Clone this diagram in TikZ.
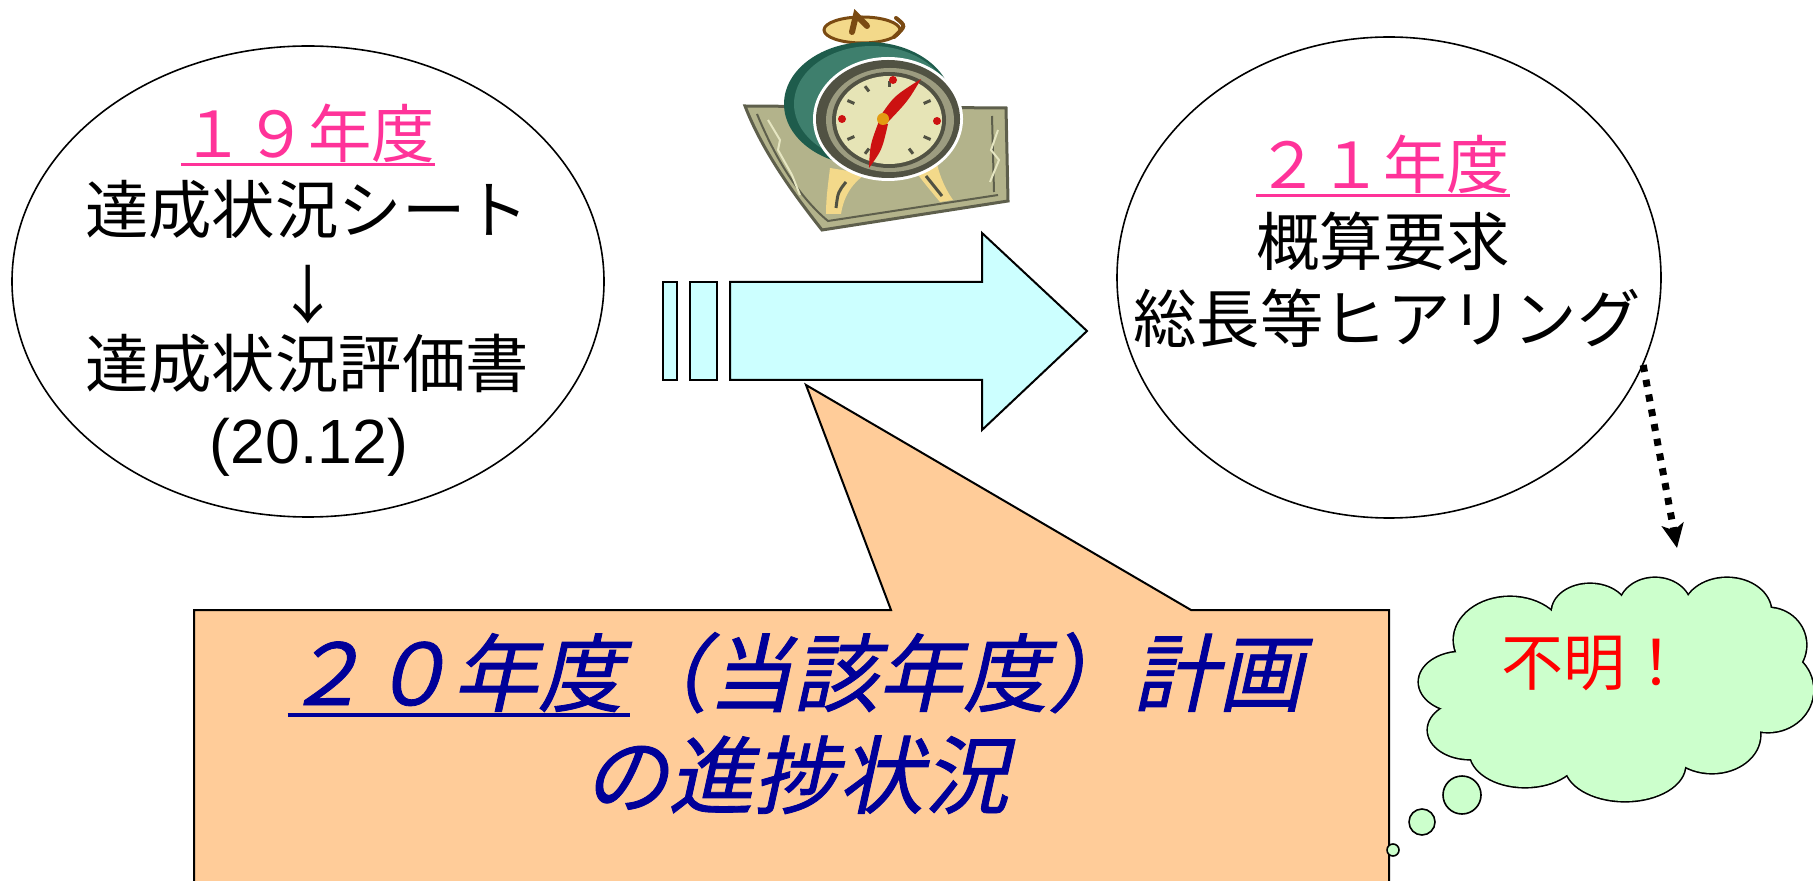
\documentclass[tikz,border=0pt]{standalone}
\usepackage{fontspec}
\setmainfont{Liberation Sans}
\newfontfamily\jp{Noto Sans CJK JP}
\newfontfamily\jpslant[FakeSlant=0.22,FakeBold=1]{Noto Sans CJK JP}
\usetikzlibrary{shapes.geometric,arrows.meta}

\definecolor{pinktxt}{HTML}{FF3399}
\definecolor{navytxt}{HTML}{000099}
\definecolor{redtxt}{HTML}{FF0000}
\definecolor{arrowfill}{HTML}{CCFFFF}
\definecolor{calloutfill}{HTML}{FFCC99}
\definecolor{cloudfill}{HTML}{CCFFCC}
\definecolor{plate}{HTML}{B3B38B}
\definecolor{platedark}{HTML}{5E5F4C}
\definecolor{platelight}{HTML}{E6E6C2}
\definecolor{clockgreen}{HTML}{3E7F6D}
\definecolor{clockgreendark}{HTML}{1E5C4C}
\definecolor{ringdark}{HTML}{515243}
\definecolor{ringmid}{HTML}{9C9C80}
\definecolor{face}{HTML}{E6E4B6}
\definecolor{handred}{HTML}{CC1111}
\definecolor{knob}{HTML}{E39B12}
\definecolor{bellbeige}{HTML}{F3D98A}
\definecolor{bellbrown}{HTML}{7A4A12}

\begin{document}
\begin{tikzpicture}[x=0.5pt,y=-0.5pt,
  bubble/.style={draw=black, ellipse, line width=0.8pt, inner sep=0pt},
  jptext/.style={font=\jp\fontsize{31.7pt}{36pt}\selectfont, inner sep=0pt, anchor=base},
  bigtext/.style={font=\jpslant\fontsize{42.5pt}{48pt}\selectfont, text=navytxt, inner sep=0pt, anchor=base},
  shapeline/.style={draw=black, line width=1pt, line join=miter}]
\useasboundingbox (0,0) rectangle (1813,881);
\clip (0,0) rectangle (1813,881);

% ---- the two year ellipses ----
\node[bubble, minimum width=296pt, minimum height=235.5pt] (left) at (308,281.5) {};
\node[bubble, minimum width=272pt, minimum height=240.5pt] (right) at (1389,277.5) {};

\node[jptext, text=pinktxt] (l1) at (308,158) {１９年度};
\draw[pinktxt, line width=1.5pt] ([yshift=-3.3pt]l1.base west) -- ([yshift=-3.3pt]l1.base east);
\node[jptext] (l2) at (307,234) {達成状況シート};
\node[jptext, anchor=center] (l3) at (308,295) {↓};
\node[jptext] (l4) at (307,388) {達成状況評価書};
\node[font=\fontsize{31.25pt}{36pt}\selectfont, inner sep=0pt, anchor=base] (l5) at (309,464) {(20.12)};

\node[jptext, text=pinktxt] (r1) at (1383,189) {２１年度};
\draw[pinktxt, line width=1.5pt] ([yshift=-3.3pt]r1.base west) -- ([yshift=-3.3pt]r1.base east);
\node[jptext] (r2) at (1383,266) {概算要求};
\node[jptext] (r3) at (1387,343) {総長等ヒアリング};

% ---- striped block arrow ----
\filldraw[fill=arrowfill, shapeline] (663,282) rectangle (677,380);
\filldraw[fill=arrowfill, shapeline] (690,282) rectangle (717,380);
\filldraw[fill=arrowfill, shapeline] (730,282) -- (982,282) -- (982,233) -- (1087,331)
  -- (982,430) -- (982,380) -- (730,380) -- cycle;

% ---- alarm clock ----
\filldraw[fill=plate, draw=platedark, line width=1.5pt]
  (745,106) -- (1006,108) -- (1008,201) -- (822,230)
  .. controls (792,192) and (762,150) .. cycle;
\draw[platedark, line width=1pt] (757,114) .. controls (776,160) and (800,198) .. (828,221) -- (998,195);
\draw[platedark, line width=1pt] (992,116) -- (994,192);
\draw[platelight, line width=1pt] (768,120) -- (780,140) -- (778,150) -- (792,175) -- (800,195);
\draw[platelight, line width=1pt] (998,130) -- (991,150) -- (999,160) -- (990,182);
% bell
\draw[bellbrown, line width=3pt] (864,38) -- (866,52);
\filldraw[fill=bellbeige, draw=bellbrown, line width=1.5pt] (862,30) ellipse [x radius=38, y radius=13];
\draw[bellbrown, line width=3pt, line cap=round] (852,32) -- (856,15) -- (867,26);
\draw[bellbrown, line width=2pt, line cap=round] (896,18) .. controls (906,26) .. (894,37);
% legs
\fill[bellbeige] (830,168) -- (866,174) .. controls (850,184) and (843,200) .. (841,214)
  -- (826,214) .. controls (826,198) and (828,185) .. cycle;
\draw[ringdark, line width=1.5pt] (846,182) .. controls (838,192) .. (836,208);
\fill[bellbeige] (910,164) -- (936,160) .. controls (940,178) and (946,190) .. (953,200)
  -- (940,202) .. controls (930,190) and (920,178) .. cycle;
\draw[ringdark, line width=1.5pt] (926,176) .. controls (934,186) .. (942,196);
% green housing
\fill[clockgreendark] (868,104) ellipse [x radius=84, y radius=62];
\fill[clockgreen] (872,104) ellipse [x radius=78, y radius=58];
\fill[white] (888,119) ellipse [x radius=75, y radius=62];
% face ring and dial
\fill[ringdark] (888,119) ellipse [x radius=72, y radius=59];
\fill[ringmid] (890,120) ellipse [x radius=64, y radius=52];
\fill[ringdark] (889,120) ellipse [x radius=57, y radius=48];
\fill[face] (889,120) ellipse [x radius=53, y radius=44];
\foreach \a in {30,60,120,150,210,240,300,330,270}
  \draw[ringdark, line width=1.5pt] ({889+40*cos(\a)},{120+33*sin(\a)}) -- ({889+48*cos(\a)},{120+39*sin(\a)});
\fill[handred] (893,80) circle [radius=4];
\fill[handred] (842,119) circle [radius=4];
\fill[handred] (937,121) circle [radius=4];
\fill[handred] (879,118) .. controls (894,96) .. (921,79) .. controls (908,101) .. (887,123) -- cycle;
\fill[handred] (879,121) .. controls (870,145) .. (869,168) .. controls (882,150) .. (888,124) -- cycle;
\fill[knob] (883,119) circle [radius=6];

% ---- callout with the current-year caption ----
\filldraw[fill=calloutfill, shapeline] (194,610) -- (891,610) -- (806,385) -- (1191,610)
  -- (1389,610) -- (1389,900) -- (194,900) -- cycle;
\node[bigtext] (c1) at (793,705) {２０年度（当該年度）計画};
\draw[navytxt, line width=2pt] ([xshift=2.5pt,yshift=-5pt]c1.base west) -- ++(342,0);
\node[bigtext] (c2) at (796,807) {の進捗状況};

% ---- thought cloud ----
\foreach \cx/\cy/\rx/\ry in {1510/640/56/43, 1462/682/43/30, 1470/730/42/29,
    1525/752/55/35, 1625/765/60/36, 1712/735/48/38, 1768/690/45/42,
    1768/645/38/37, 1727/612/44/34, 1655/608/36/30, 1590/612/38/28}
  \draw[line width=1.6pt] (\cx,\cy) ellipse [x radius=\rx, y radius=\ry];
\foreach \cx/\cy/\rx/\ry in {1510/640/56/43, 1462/682/43/30, 1470/730/42/29,
    1525/752/55/35, 1625/765/60/36, 1712/735/48/38, 1768/690/45/42,
    1768/645/38/37, 1727/612/44/34, 1655/608/36/30, 1590/612/38/28,
    1620/690/160/70, 1640/650/120/50}
  \fill[cloudfill] (\cx,\cy) ellipse [x radius=\rx, y radius=\ry];
\filldraw[fill=cloudfill, draw=black, line width=0.8pt] (1462,795) circle [radius=19];
\filldraw[fill=cloudfill, draw=black, line width=0.8pt] (1422,822) circle [radius=13];
\filldraw[fill=cloudfill, draw=black, line width=0.8pt] (1393,850) circle [radius=6];
\node[font=\jp\fontsize{31pt}{36pt}\selectfont, text=redtxt, inner sep=0pt, anchor=base] (unknown) at (1594,685) {不明！};

% ---- dotted pointer from the 21st-year ellipse ----
\coordinate (cloudtop) at (1677,548);
\draw[line width=3.5pt, dash pattern=on 3.5pt off 4pt,
  -{Stealth[length=12pt,width=11pt,inset=3pt]}] (right.-19) -- (cloudtop);
\end{tikzpicture}
\end{document}
